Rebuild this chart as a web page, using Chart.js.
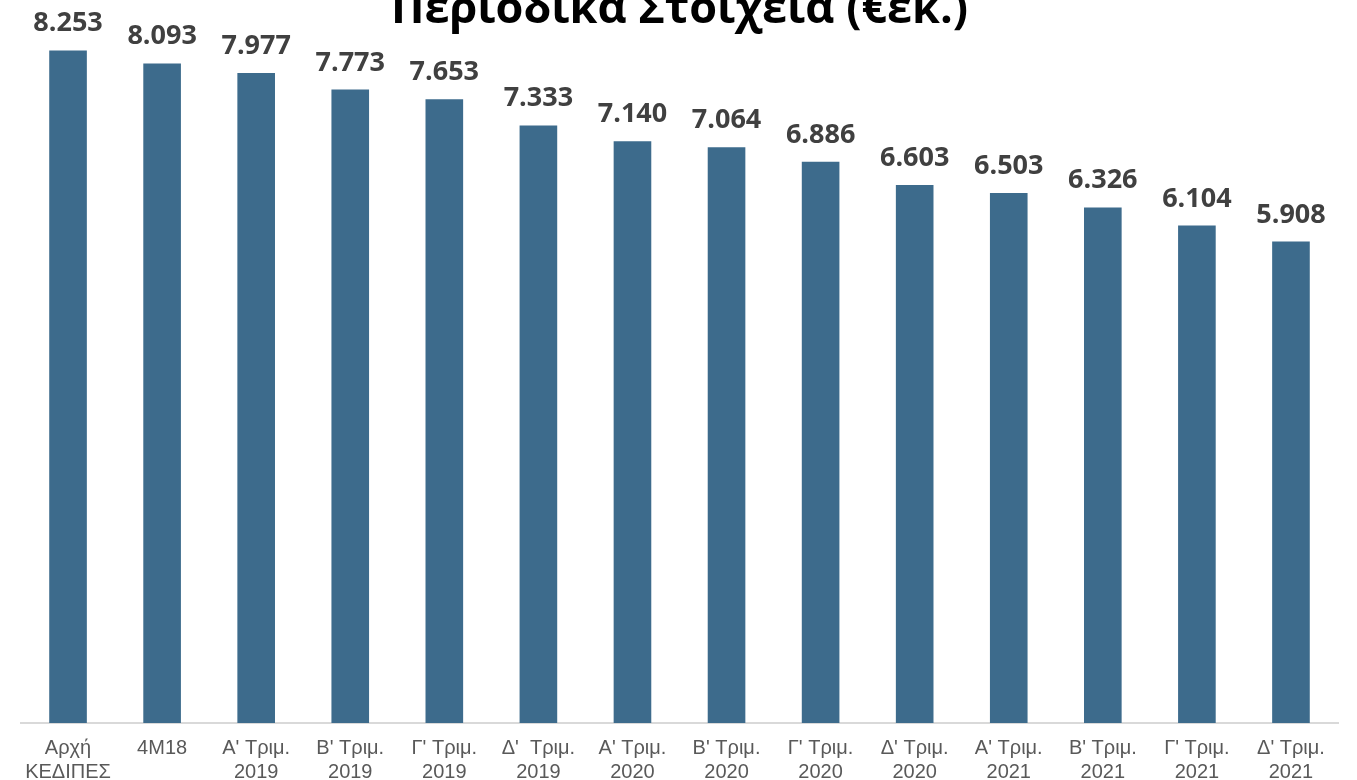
<!DOCTYPE html>
<html>
<head>
<meta charset="utf-8">
<script src="https://cdn.jsdelivr.net/npm/chart.js@4.4.1/dist/chart.umd.min.js"></script>
<style>
  html, body { margin: 0; padding: 0; background: #fff; overflow: hidden; }
  #wrap { position: absolute; left: 0; top: -24px; width: 1357px; height: 821px; }
</style>
</head>
<body>
<div id="wrap"><canvas id="chart"></canvas></div>
<script>
const categories = [
  ["Αρχή", "ΚΕΔΙΠΕΣ"],
  ["4M18"],
  ["Α' Τριμ.", "2019"],
  ["Β' Τριμ.", "2019"],
  ["Γ' Τριμ.", "2019"],
  ["Δ'  Τριμ.", "2019"],
  ["Α' Τριμ.", "2020"],
  ["Β' Τριμ.", "2020"],
  ["Γ' Τριμ.", "2020"],
  ["Δ' Τριμ.", "2020"],
  ["Α' Τριμ.", "2021"],
  ["Β' Τριμ.", "2021"],
  ["Γ' Τριμ.", "2021"],
  ["Δ' Τριμ.", "2021"]
];
const values = [8253, 8093, 7977, 7773, 7653, 7333, 7140, 7064, 6886, 6603, 6503, 6326, 6104, 5908];
const title = "Περιοδικά Στοιχεία (€εκ.)";

// 8253 -> "8.253"
function fmt(v) {
  return String(v).replace(/\B(?=(\d{3})+(?!\d))/g, ".");
}

// value labels above the bars
const barLabels = {
  id: "barLabels",
  afterDatasetsDraw(chart) {
    const ctx = chart.ctx;
    const meta = chart.getDatasetMeta(0);
    ctx.save();
    ctx.font = "bold 27px 'Open Sans'";
    ctx.fillStyle = "#404040";
    ctx.textAlign = "center";
    ctx.textBaseline = "alphabetic";
    meta.data.forEach((bar, i) => {
      ctx.fillText(fmt(values[i]), bar.x, bar.y - 19);
    });
    ctx.restore();
  }
};

const ctx = document.getElementById("chart").getContext("2d");
new Chart(ctx, {
  type: "bar",
  data: {
    labels: categories,
    datasets: [
      {
        data: values,
        backgroundColor: "#3d6b8c",
        barPercentage: 0.4,
        categoryPercentage: 1.0,
      },
    ],
  },
  options: {
    responsive: true,
    maintainAspectRatio: false,
    animation: false,
    layout: { padding: { left: 21, right: 19, top: 0, bottom: 0 } },
    plugins: {
      legend: { display: false },
      tooltip: { enabled: false },
      title: {
        display: true,
        text: title,
        color: "#000",
        font: { family: "'Open Sans'", size: 45, weight: "bold", lineHeight: 1.2 },
        padding: { top: 7, bottom: 3 },
      },
    },
    scales: {
      y: {
        display: false,
        min: 0,
        max: 8381,
      },
      x: {
        grid: { display: false, drawTicks: false },
        border: { display: true, color: "#d9d9d9", width: 2 },
        ticks: {
          color: "#595959",
          font: { family: "'Liberation Sans'", size: 20, lineHeight: 1.2 },
          padding: 13,
          maxRotation: 0,
          autoSkip: false,
        },
      },
    },
  },
  plugins: [barLabels],
});
</script>
</body>
</html>
